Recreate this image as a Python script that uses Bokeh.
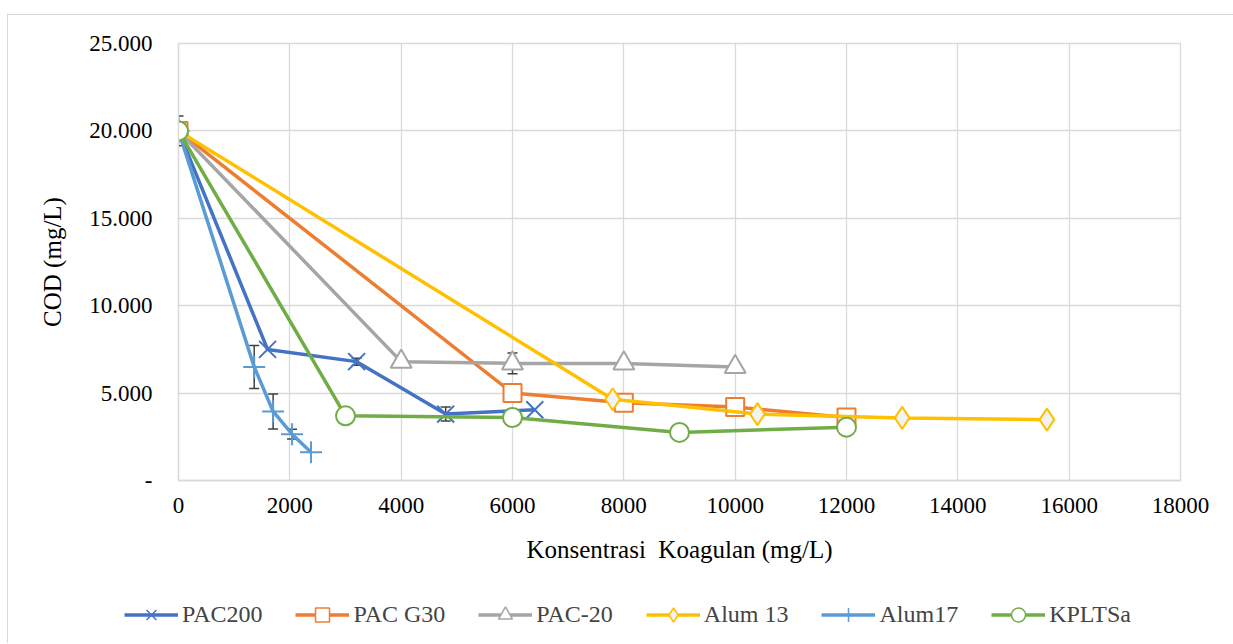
from bokeh.plotting import figure
from bokeh.layouts import column
from bokeh.models import (Legend, LegendItem, Whisker, ColumnDataSource,
                          FixedTicker, TeeHead, Range1d)
from bokeh.embed import file_html
from bokeh.resources import INLINE

# ---------------- data ----------------
x_ticks = [0, 2000, 4000, 6000, 8000, 10000, 12000, 14000, 16000, 18000]
y_ticks = [0, 5000, 10000, 15000, 20000, 25000]
y_tick_labels = ["-", "5.000", "10.000", "15.000", "20.000", "25.000"]

pac200_x = [0, 1600, 3200, 4800, 6400]
pac200_y = [20000, 7500, 6800, 3800, 4050]
pac200_err = [850, 0, 200, 400, 0]

pacg30_x = [0, 6000, 8000, 10000, 12000]
pacg30_y = [20000, 5000, 4450, 4200, 3600]
pacg30_err = [0, 0, 0, 0, 0]

pac20_x = [0, 4000, 6000, 8000, 10000]
pac20_y = [20000, 6800, 6700, 6700, 6500]
pac20_err = [0, 150, 600, 150, 0]

alum13_x = [0, 7800, 10400, 13000, 15600]
alum13_y = [20000, 4650, 3800, 3580, 3480]
alum13_err = [0, 0, 0, 0, 0]

alum17_x = [0, 1360, 1700, 2040, 2380]
alum17_y = [20000, 6500, 3950, 2650, 1620]
alum17_err = [0, 1230, 1000, 280, 0]

kpltsa_x = [0, 3000, 6000, 9000, 12000]
kpltsa_y = [20000, 3700, 3600, 2750, 3050]
kpltsa_err = [0, 0, 0, 0, 0]

# name, x, y, error, colour, marker, chart marker size, legend marker size, fill
series = [
    ("PAC200", pac200_x, pac200_y, pac200_err, "#4472C4", "x", 24, 17, None),
    ("PAC G30", pacg30_x, pacg30_y, pacg30_err, "#ED7D31", "square", 18, 14, "white"),
    ("PAC-20", pac20_x, pac20_y, pac20_err, "#A5A5A5", "triangle", 21, 16, "white"),
    ("Alum 13", alum13_x, alum13_y, alum13_err, "#FFC000", "diamond", 22, 17, "#F2F2F2"),
    ("Alum17", alum17_x, alum17_y, alum17_err, "#5B9BD5", "cross", 22, 17, None),
    ("KPLTSa", kpltsa_x, kpltsa_y, kpltsa_err, "#70AD47", "circle", 19, 14, "white"),
]

FONT = "Liberation Serif"

# ---------------- main chart ----------------
p = figure(width=1225, height=570,
           x_range=Range1d(0, 18000), y_range=Range1d(0, 25000),
           output_backend="svg", toolbar_location=None,
           min_border_left=170, min_border_right=53,
           min_border_top=28, min_border_bottom=105)
p.background_fill_color = "white"
p.border_fill_color = "white"
p.outline_line_color = "#D9D9D9"
p.outline_line_width = 1.3

p.xaxis.ticker = FixedTicker(ticks=x_ticks)
p.yaxis.ticker = FixedTicker(ticks=y_ticks)
p.yaxis.major_label_overrides = {t: l for t, l in zip(y_ticks, y_tick_labels)}
p.xgrid.ticker = FixedTicker(ticks=x_ticks)
p.ygrid.ticker = FixedTicker(ticks=y_ticks)
for g in (p.xgrid, p.ygrid):
    g.grid_line_color = "#D9D9D9"
    g.grid_line_width = 1.3

for ax in (p.xaxis, p.yaxis):
    ax.axis_line_color = "#D9D9D9"
    ax.axis_line_width = 1.3
    ax.major_tick_line_color = None
    ax.minor_tick_line_color = None
    ax.major_tick_out = 0
    ax.major_tick_in = 0
    ax.major_label_text_font = FONT
    ax.major_label_text_font_size = "23px"
    ax.major_label_text_color = "black"
    ax.axis_label_text_font = FONT
    ax.axis_label_text_font_size = "25px"
    ax.axis_label_text_font_style = "normal"
    ax.axis_label_text_color = "black"

p.xaxis.axis_label = "Konsentrasi\u00a0 Koagulan (mg/L)"
p.yaxis.axis_label = "COD (mg/L)"
p.xaxis.major_label_standoff = 17
p.yaxis.major_label_standoff = 26
p.xaxis.axis_label_standoff = 20
p.yaxis.axis_label_standoff = 20

# ---------------- legend strip ----------------
lp = figure(width=1225, height=58, x_range=Range1d(0, 1), y_range=Range1d(0, 1),
            output_backend="svg", toolbar_location=None,
            x_axis_location=None, y_axis_location=None,
            min_border=0)
lp.grid.visible = False
lp.outline_line_color = None
lp.background_fill_color = "white"
lp.border_fill_color = "white"

items = []
for name, xs, ys, errs, color, marker, size, lsize, fill in series:
    p.line(xs, ys, line_color=color, line_width=3.5)
    ex = [x for x, e in zip(xs, errs) if e > 0]
    if ex:
        src = ColumnDataSource(dict(
            x=ex,
            upper=[y + e for y, e in zip(ys, errs) if e > 0],
            lower=[y - e for y, e in zip(ys, errs) if e > 0]))
        w = Whisker(base="x", upper="upper", lower="lower", source=src,
                    line_color="#404040", line_width=1.5,
                    upper_head=TeeHead(size=10, line_color="#404040", line_width=1.5),
                    lower_head=TeeHead(size=10, line_color="#404040", line_width=1.5))
        p.add_layout(w)
    fc = "white" if fill is None else fill
    fa = 0 if fill is None else 1
    p.scatter(xs, ys, marker=marker, size=size, line_color=color,
              fill_color=fc, fill_alpha=fa, line_width=2)
    # legend proxies: same styling, placed outside the strip's visible range
    l2 = lp.line([-5, -4], [-5, -5], line_color=color, line_width=3.5)
    s2 = lp.scatter([-5], [-5], marker=marker, size=lsize, line_color=color,
                    fill_color=fc, fill_alpha=fa, line_width=1.5)
    items.append(LegendItem(label=name, renderers=[l2, s2]))

legend = Legend(items=items, orientation="horizontal", location=(116, 11))
legend.border_line_color = None
legend.background_fill_alpha = 0
legend.glyph_width = 54
legend.glyph_height = 35
legend.label_text_font = FONT
legend.label_text_font_size = "24px"
legend.label_standoff = 4
legend.spacing = 33
legend.padding = 0
legend.margin = 0
lp.add_layout(legend, "center")

layout = column(p, column(lp, spacing=0), spacing=0)
layout.margin = (14, 0, 0, 7)
layout.styles = {"border-top": "1px solid #D9D9D9", "border-left": "1px solid #D9D9D9"}

open("out.html", "w").write(file_html(layout, INLINE))
